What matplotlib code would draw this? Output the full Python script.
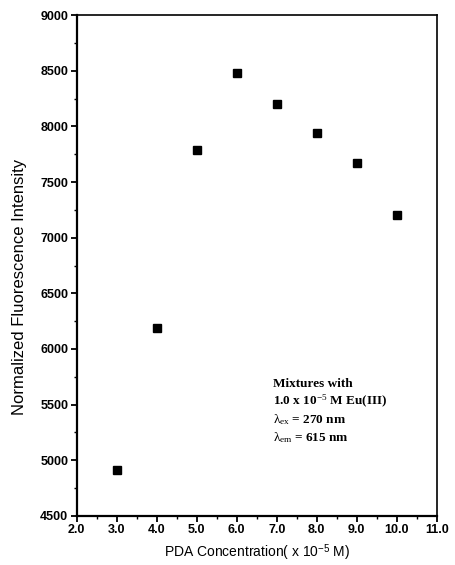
import matplotlib
matplotlib.use("Agg")
import matplotlib.pyplot as plt
from matplotlib.ticker import MultipleLocator, FormatStrFormatter

conc = [3.0, 4.0, 5.0, 6.0, 7.0, 8.0, 9.0, 10.0]
intensity = [4910, 6190, 7785, 8479, 8204, 7943, 7671, 7205]

plt.rcParams['mathtext.fontset'] = 'custom'
plt.rcParams['mathtext.rm'] = 'Liberation Serif'
plt.rcParams['mathtext.it'] = 'Liberation Serif'
plt.rcParams['mathtext.sf'] = 'Liberation Sans'

fig = plt.figure(figsize=(4.56, 5.65), dpi=100)
ax = fig.add_axes([0.168, 0.087, 0.790, 0.886])

ax.plot(conc, intensity, linestyle='none', marker='s', markersize=5.2,
        color='black')

ax.set_xlim(2.0, 11.0)
ax.set_ylim(4500, 9000)
ax.xaxis.set_major_locator(MultipleLocator(1.0))
ax.xaxis.set_minor_locator(MultipleLocator(0.5))
ax.yaxis.set_major_locator(MultipleLocator(500))
ax.yaxis.set_minor_locator(MultipleLocator(250))
ax.xaxis.set_major_formatter(FormatStrFormatter('%.1f'))

for s in ['left', 'bottom']:
    ax.spines[s].set_linewidth(1.6)
for s in ['top', 'right']:
    ax.spines[s].set_linewidth(1.2)

ax.tick_params(which='major', direction='out', length=4, width=1.3,
               labelsize=9, pad=2)
ax.tick_params(which='minor', direction='out', length=2, width=1.0)
for lab in ax.get_xticklabels() + ax.get_yticklabels():
    lab.set_fontfamily('Liberation Sans')
    lab.set_fontweight('bold')

ax.set_xlabel('PDA Concentration( x 10$^{\\mathsf{-5}}$ M)', fontsize=10,
              family='Liberation Sans')
ax.xaxis.set_label_coords(0.5, -0.052)
ax.set_ylabel('Normalized Fluorescence Intensity', fontsize=12,
              family='Liberation Sans')
ax.yaxis.set_label_coords(-0.138, 0.457)

ann = ('Mixtures with\n'
       '1.0 x 10$^{-5}$ M Eu(III)\n'
       '$\\lambda_{ex}$ = 270 nm\n'
       '$\\lambda_{em}$ = 615 nm')
ax.text(0.545, 0.2755, ann, transform=ax.transAxes, fontsize=9.5,
        family='Liberation Serif', fontweight='bold', va='top', ha='left',
        linespacing=1.25)

fig.savefig('out.png', dpi=100)
